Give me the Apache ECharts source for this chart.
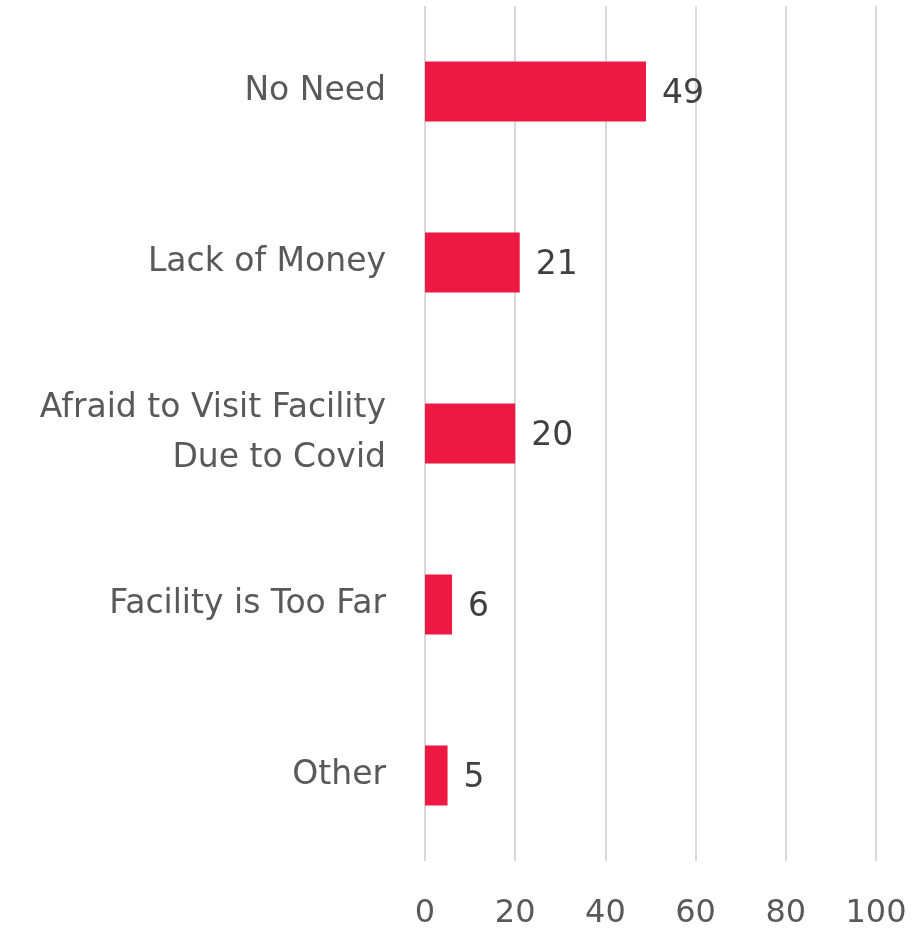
<!DOCTYPE html>
<html>
<head>
<meta charset="utf-8">
<script src="https://cdn.jsdelivr.net/npm/echarts@6/dist/echarts.min.js"></script>
<style>
  html, body { margin: 0; padding: 0; background: #ffffff; }
  #chart { width: 917px; height: 930px; }
</style>
</head>
<body>
<div id="chart"></div>
<script>
// Reasons given, listed top to bottom
const categories = ['No Need', 'Lack of Money', 'Afraid to Visit Facility\nDue to Covid', 'Facility is Too Far', 'Other'];
const values = [49, 21, 20, 6, 5];
const xTicks = [0, 20, 40, 60, 80, 100];

const FONT = 'DejaVu Sans';
const chart = echarts.init(document.getElementById('chart'));
chart.setOption({
  animation: false,
  grid: { left: 425, right: 41, top: 6, bottom: 69, containLabel: false },
  xAxis: {
    type: 'value',
    min: xTicks[0],
    max: xTicks[xTicks.length - 1],
    interval: xTicks[1] - xTicks[0],
    axisLine: { show: false },
    axisTick: { show: false },
    splitLine: { show: true, lineStyle: { color: '#d9d9d9', width: 2 } },
    axisLabel: { color: '#595959', fontFamily: FONT, fontSize: 32, margin: 37 }
  },
  yAxis: {
    type: 'category',
    inverse: true,
    data: categories,
    axisLine: { show: false },
    axisTick: { show: false },
    axisLabel: { color: '#595959', fontFamily: FONT, fontSize: 33, margin: 39, lineHeight: 50, align: 'right' }
  },
  series: [{
    type: 'bar',
    data: values,
    barWidth: '35%',
    itemStyle: { color: '#ee1942' },
    label: { show: true, position: 'right', distance: 16, offset: [0, 3], color: '#404040', fontFamily: FONT, fontSize: 33 }
  }]
});
</script>
</body>
</html>
